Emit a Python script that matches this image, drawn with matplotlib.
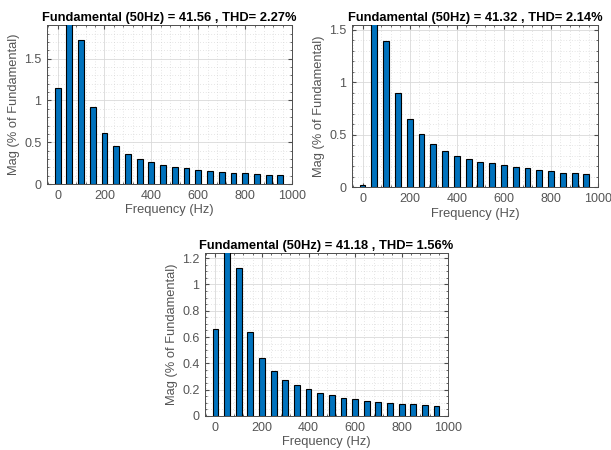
import numpy as np
import matplotlib
matplotlib.use('Agg')
import matplotlib.pyplot as plt
from matplotlib.ticker import AutoMinorLocator, MultipleLocator

# Harmonic frequencies (Hz)
freqs = np.arange(0, 1000, 50)

# Magnitudes (% of fundamental); the 50 Hz bar is the fundamental (100 %)
mag_a = [1.15, 100, 1.726, 0.917, 0.607, 0.456, 0.361, 0.298, 0.258, 0.23,
         0.198, 0.187, 0.167, 0.155, 0.143, 0.135, 0.127, 0.115, 0.107, 0.107]
mag_b = [0.025, 100, 1.398, 0.895, 0.65, 0.51, 0.41, 0.344, 0.30, 0.27,
         0.245, 0.23, 0.207, 0.197, 0.18, 0.165, 0.15, 0.14, 0.134, 0.124]
mag_c = [0.66, 100, 1.127, 0.635, 0.44, 0.342, 0.276, 0.238, 0.203, 0.177,
         0.16, 0.139, 0.127, 0.114, 0.106, 0.099, 0.089, 0.089, 0.081, 0.076]

titles = ['Fundamental (50Hz) = 41.56 , THD= 2.27%',
          'Fundamental (50Hz) = 41.32 , THD= 2.14%',
          'Fundamental (50Hz) = 41.18 , THD= 1.56%']
ytops = [1.9, 1.545, 1.238]
ysteps = [0.5, 0.5, 0.2]
yminor = [5, 5, 4]

plt.rcParams['font.family'] = ['Liberation Sans', 'DejaVu Sans']
plt.rcParams['font.size'] = 9

fig = plt.figure(figsize=(6.11, 4.5), dpi=100)
rects = [[0.077, 0.591, 0.401, 0.353],
         [0.576, 0.584, 0.403, 0.360],
         [0.3355, 0.0756, 0.398, 0.362]]

grey = '#4d4d4d'
for rect, mags, title, ytop, ystep, ymin in zip(rects, [mag_a, mag_b, mag_c],
                                               titles, ytops, ysteps, yminor):
    ax = fig.add_axes(rect)
    ax.bar(freqs, mags, width=25, color='#0072BD', edgecolor='black',
           linewidth=0.8, zorder=3)
    ax.set_xlim(-45, 1000)
    ax.set_ylim(0, ytop)
    ax.xaxis.set_major_locator(MultipleLocator(200))
    ax.yaxis.set_major_locator(MultipleLocator(ystep))
    ax.xaxis.set_minor_locator(AutoMinorLocator(5))
    ax.yaxis.set_minor_locator(AutoMinorLocator(ymin))
    ax.grid(True, which='major', color='#d9d9d9', linewidth=0.6, zorder=0)
    ax.grid(True, which='minor', color='#cccccc', linewidth=0.5,
            linestyle=(0, (1, 3)), zorder=0)
    ax.tick_params(which='both', direction='in', top=True, right=True,
                   colors=grey, labelsize=9, labelcolor='#555555')
    ax.tick_params(which='major', length=3, pad=4)
    ax.tick_params(which='minor', length=1.5)
    ax.yaxis.set_major_formatter(plt.FuncFormatter(lambda v, p: '%g' % v))
    for s in ax.spines.values():
        s.set_color(grey)
        s.set_linewidth(0.7)
    ax.set_title(title, fontsize=9.3, fontweight='bold', pad=3)
    ax.set_xlabel('Frequency (Hz)', fontsize=9.3, color='#555555', labelpad=2)
    ax.set_ylabel('Mag (% of Fundamental)', fontsize=9.3, color='#555555',
                  labelpad=3)

fig.savefig('out.png', dpi=100)
